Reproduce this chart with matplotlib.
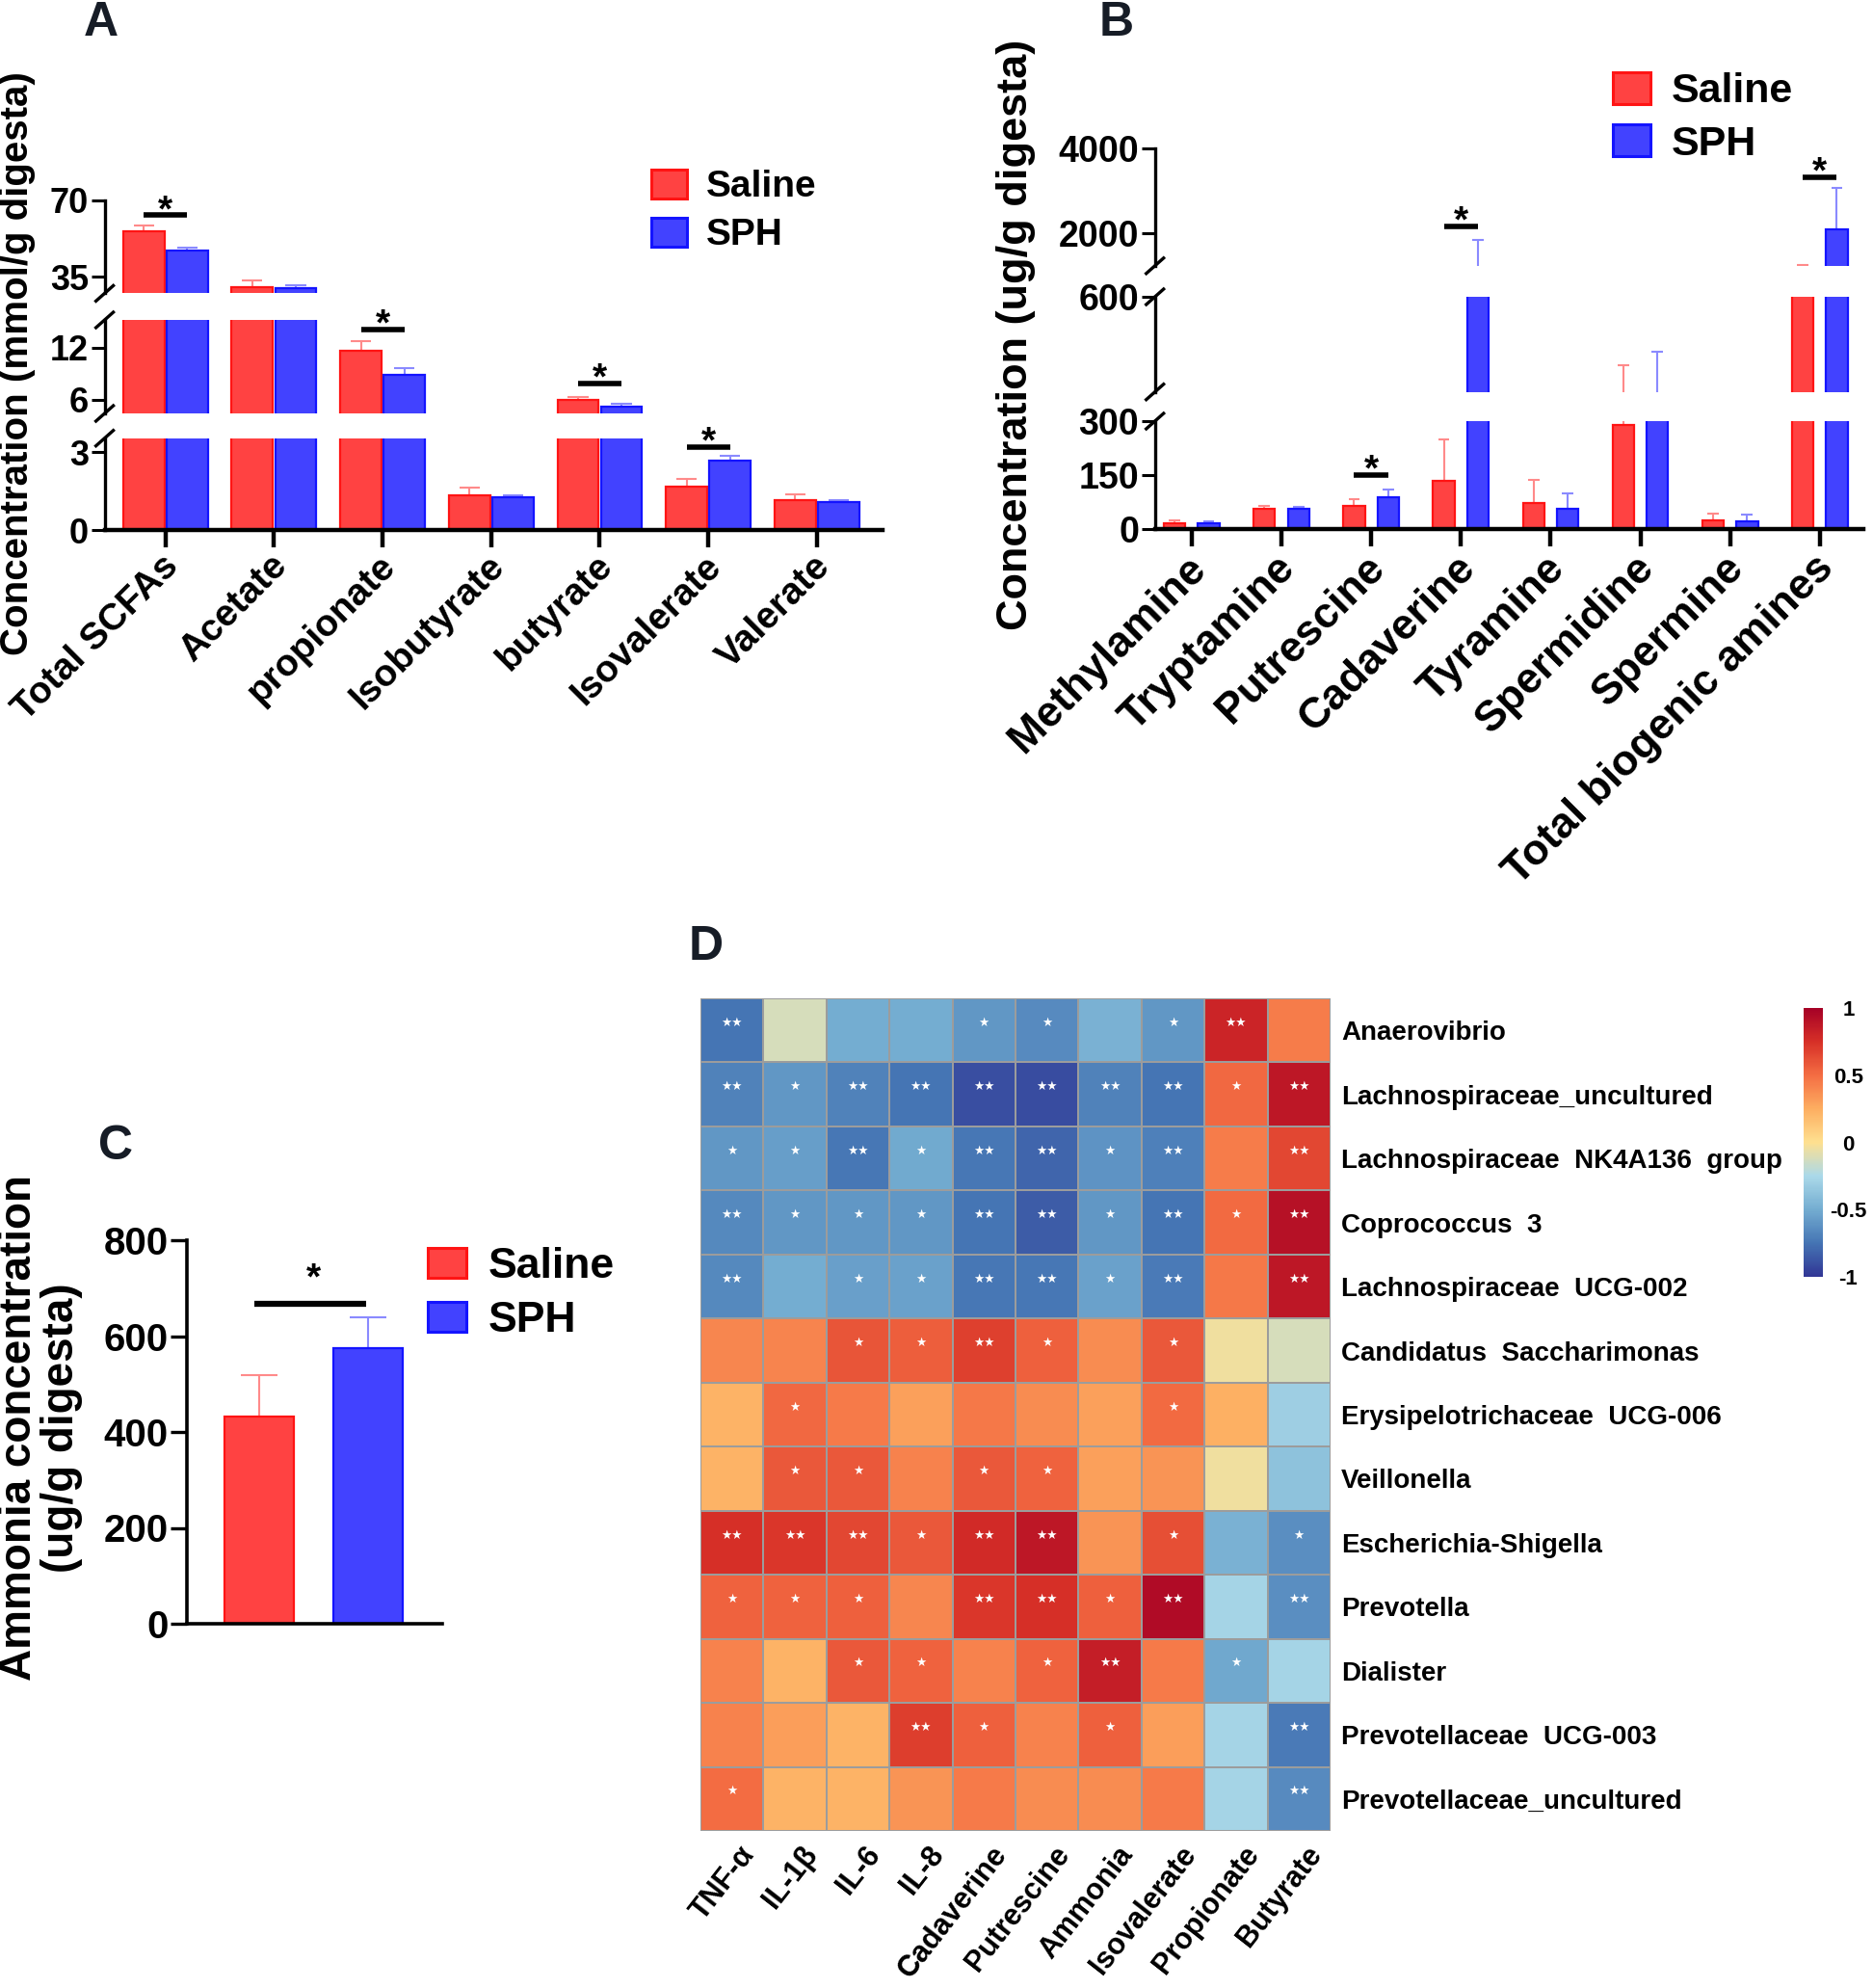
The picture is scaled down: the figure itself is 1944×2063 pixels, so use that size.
import matplotlib
matplotlib.use('Agg')
import matplotlib.pyplot as plt
from matplotlib.patches import Patch
from matplotlib.lines import Line2D
from matplotlib.colors import LinearSegmentedColormap
from matplotlib.transforms import ScaledTranslation
import numpy as np

plt.rcParams['font.family'] = ['Liberation Sans', 'DejaVu Sans']
plt.rcParams['font.weight'] = 'bold'

# ---------------- data ----------------
groups = ['Saline', 'SPH']

# A: short chain fatty acids (mmol/g digesta)
scfa_names = ['Total SCFAs', 'Acetate', 'propionate', 'Isobutyrate', 'butyrate', 'Isovalerate', 'Valerate']
scfa_saline = [55.8, 30.3, 11.6, 1.35, 5.95, 1.69, 1.17]
scfa_saline_err = [2.5, 3.2, 1.1, 0.30, 0.35, 0.28, 0.21]
scfa_sph = [47.1, 29.9, 8.9, 1.26, 5.2, 2.69, 1.06]
scfa_sph_err = [1.3, 1.2, 0.7, 0.09, 0.30, 0.18, 0.11]
scfa_sig = [(0, 63.0), (2, 14.05), (4, 7.9), (5, 3.18)]
scfa_limits = [(0, 3.54), (4.4, 15.2), (27.6, 70)]
scfa_ticks = [[0, 3], [6, 12], [35, 70]]

# B: biogenic amines (ug/g digesta)
amine_names = ['Methylamine', 'Tryptamine', 'Putrescine', 'Cadaverine', 'Tyramine',
               'Spermidine', 'Spermine', 'Total biogenic amines']
amine_saline = [16, 55, 63, 134, 71, 289, 24, 1000]
amine_saline_err = [8, 8, 19, 116, 66, 118, 19, 240]
amine_sph = [16, 55, 87, 900, 55, 310, 20, 2093]
amine_sph_err = [4, 5, 22, 926, 44, 134, 19, 975]
amine_sig = [(2, 150), (3, 2161), (7, 3307)]
amine_limits = [(0, 300), (330, 600), (1227, 4000)]
amine_ticks = [[0, 150, 300], [600], [2000, 4000]]

# C: ammonia (ug/g digesta)
nh3_val = [432, 575]
nh3_err = [87, 64]
nh3_sig = 667

# D: correlation heatmap
taxa = ['Anaerovibrio', 'Lachnospiraceae_uncultured', 'Lachnospiraceae  NK4A136  group',
        'Coprococcus  3', 'Lachnospiraceae  UCG-002', 'Candidatus  Saccharimonas',
        'Erysipelotrichaceae  UCG-006', 'Veillonella', 'Escherichia-Shigella', 'Prevotella',
        'Dialister', 'Prevotellaceae  UCG-003', 'Prevotellaceae_uncultured']
factors = ['TNF-α', 'IL-1β', 'IL-6', 'IL-8', 'Cadaverine', 'Putrescine', 'Ammonia',
           'Isovalerate', 'Propionate', 'Butyrate']
corr = [
    [-0.75, -0.12, -0.50, -0.50, -0.60, -0.65, -0.47, -0.60, 0.81, 0.44],
    [-0.69, -0.60, -0.69, -0.75, -0.90, -0.91, -0.69, -0.75, 0.52, 0.88],
    [-0.60, -0.57, -0.74, -0.51, -0.74, -0.81, -0.61, -0.70, 0.44, 0.65],
    [-0.66, -0.60, -0.60, -0.60, -0.75, -0.85, -0.60, -0.75, 0.51, 0.91],
    [-0.66, -0.50, -0.56, -0.55, -0.74, -0.74, -0.55, -0.72, 0.46, 0.88],
    [0.40, 0.41, 0.60, 0.56, 0.68, 0.55, 0.38, 0.58, -0.04, -0.12],
    [0.22, 0.52, 0.45, 0.30, 0.46, 0.38, 0.30, 0.51, 0.24, -0.31],
    [0.22, 0.58, 0.58, 0.42, 0.58, 0.54, 0.30, 0.35, -0.04, -0.38],
    [0.75, 0.72, 0.65, 0.58, 0.78, 0.88, 0.35, 0.62, -0.47, -0.64],
    [0.54, 0.54, 0.55, 0.40, 0.72, 0.75, 0.55, 0.94, -0.28, -0.64],
    [0.42, 0.22, 0.58, 0.54, 0.42, 0.54, 0.84, 0.45, -0.52, -0.28],
    [0.42, 0.31, 0.22, 0.69, 0.55, 0.42, 0.55, 0.31, -0.28, -0.72],
    [0.50, 0.22, 0.22, 0.35, 0.45, 0.38, 0.38, 0.45, -0.28, -0.65],
]
stars = [
    ['**', '', '', '', '*', '*', '', '*', '**', ''],
    ['**', '*', '**', '**', '**', '**', '**', '**', '*', '**'],
    ['*', '*', '**', '*', '**', '**', '*', '**', '', '**'],
    ['**', '*', '*', '*', '**', '**', '*', '**', '*', '**'],
    ['**', '', '*', '*', '**', '**', '*', '**', '', '**'],
    ['', '', '*', '*', '**', '*', '', '*', '', ''],
    ['', '*', '', '', '', '', '', '*', '', ''],
    ['', '*', '*', '', '*', '*', '', '', '', ''],
    ['**', '**', '**', '*', '**', '**', '', '*', '', '*'],
    ['*', '*', '*', '', '**', '**', '*', '**', '', '**'],
    ['', '', '*', '*', '', '*', '**', '', '*', ''],
    ['', '', '', '**', '*', '', '*', '', '', '**'],
    ['*', '', '', '', '', '', '', '', '', '**'],
]
heat_colors = ['#313695', '#4575b4', '#74add1', '#abd9e9', '#fee090',
               '#fdae61', '#f46d43', '#d73027', '#a50026']

# ---------------- figure ----------------
W, H = 1944, 2063
fig = plt.figure(figsize=(W / 100, H / 100), dpi=100)

RED, RED_EDGE, RED_ERR = '#ff4242', '#ff1414', '#ff8a8a'
BLUE, BLUE_EDGE, BLUE_ERR = '#4242ff', '#1414ff', '#8a8aff'
LETTER = '#161c26'


def box(x0, y0, x1, y1):
    # pixel box (origin top-left) -> figure rect
    return [x0 / W, 1 - y1 / H, (x1 - x0) / W, (y1 - y0) / H]


def draw_bars(ax, x, vals, errs, width, cap, fc, ec, erc):
    vals = np.asarray(vals, float)
    tops = vals + np.asarray(errs, float)
    ax.bar(x, vals, width, color=fc, edgecolor=ec, linewidth=1.6, zorder=2)
    ax.vlines(x, vals, tops, color=erc, lw=1.5, zorder=1)
    ax.hlines(tops, x - cap, x + cap, color=erc, lw=1.5, zorder=1)


def broken_panel(x0, x1, rows, limits, ticks, xlim, names, s, s_err, p, p_err,
                 off, width, cap, sig, fs_tick, fs_cat, lab_dx, lab_pad):
    x = np.arange(len(names))
    n = len(rows)
    for i, ((ytop, ybot), (lo, hi), tk) in enumerate(zip(rows, limits, ticks)):
        ax = fig.add_axes(box(x0, ytop, x1, ybot))
        ax.patch.set_alpha(0)
        draw_bars(ax, x - off, s, s_err, width, cap, RED, RED_EDGE, RED_ERR)
        draw_bars(ax, x + off, p, p_err, width, cap, BLUE, BLUE_EDGE, BLUE_ERR)
        ax.set_xlim(*xlim)
        ax.set_ylim(lo, hi)
        ax.set_yticks(tk)
        ax.tick_params(axis='y', length=10, width=2.2, labelsize=fs_tick, pad=2)
        ax.spines['left'].set_linewidth(2.4)
        for sp in ['top', 'right']:
            ax.spines[sp].set_visible(False)
        if i == 0:
            ax.set_xticks(x)
            ax.set_xticklabels(names, rotation=45, ha='right', va='center',
                               rotation_mode='anchor', fontsize=fs_cat)
            ax.tick_params(axis='x', length=13, width=3.2, pad=lab_pad)
            ax.spines['bottom'].set_linewidth(3.2)
            for lab in ax.get_xticklabels():
                lab.set_transform(lab.get_transform() +
                                  ScaledTranslation(lab_dx / 100, 0, fig.dpi_scale_trans))
        else:
            ax.spines['bottom'].set_visible(False)
            ax.set_xticks([])
        # axis break marks
        ends = []
        if i > 0:
            ends.append(ybot)
        if i < n - 1:
            ends.append(ytop)
        for y in ends:
            fig.add_artist(Line2D([(x0 - 9) / W, (x0 + 9) / W],
                                  [1 - (y + 8) / H, 1 - (y - 8) / H],
                                  transform=fig.transFigure, color='black', lw=2.4))
        for xi, h in sig:
            if lo < h < hi:
                ax.plot([xi - off, xi + off], [h, h], color='black', lw=4,
                        solid_capstyle='butt', clip_on=False)
                ax.annotate('*', (xi, h), xytext=(0, -4), textcoords='offset points',
                            ha='center', va='baseline', fontsize=28, annotation_clip=False)


def legend_at(x, y, fs, hl, hh, ls):
    handles = [Patch(facecolor=RED, edgecolor=RED_EDGE, linewidth=2.2, label=groups[0]),
               Patch(facecolor=BLUE, edgecolor=BLUE_EDGE, linewidth=2.2, label=groups[1])]
    fig.legend(handles=handles, loc='upper left', bbox_to_anchor=(x / W, 1 - y / H),
               frameon=False, fontsize=fs, handlelength=hl, handleheight=hh,
               handletextpad=0.5, labelspacing=ls, borderpad=0, borderaxespad=0)


# ---- Panel A ----
broken_panel(108.6, 915.5, [(454.7, 550), (332, 429), (207.5, 304.4)],
             scfa_limits, scfa_ticks, (-0.56, 6.6), scfa_names,
             scfa_saline, scfa_saline_err, scfa_sph, scfa_sph_err,
             0.2, 0.38, 0.094, scfa_sig, 26, 28, 8, 10)
fig.text(18 / W, 1 - 377 / H, 'Concentration (mmol/g digesta)', rotation=90,
         ha='center', va='center', fontsize=29)
legend_at(676, 176, 28, 0.95, 0.8, 0.35)
fig.text(105 / W, 1 - 24 / H, 'A', ha='center', va='center', fontsize=36, color=LETTER)

# ---- Panel B ----
broken_panel(1198.7, 1933.5, [(437, 548.7), (308, 406.7), (153.8, 275.8)],
             amine_limits, amine_ticks, (-0.41, 7.48), amine_names,
             amine_saline, amine_saline_err, amine_sph, amine_sph_err,
             0.19, 0.24, 0.063, amine_sig, 27, 32, 8, 12)
fig.text(1054 / W, 1 - 347 / H, 'Concentration (ug/g digesta)', rotation=90,
         ha='center', va='center', fontsize=32.5)
legend_at(1674, 75, 31, 0.9, 0.8, 0.32)
fig.text(1159 / W, 1 - 24 / H, 'B', ha='center', va='center', fontsize=36, color=LETTER)

# ---- Panel C ----
axc = fig.add_axes(box(194.4, 1287, 458.8, 1685))
xc = np.arange(2)
draw_bars(axc, xc[:1], nh3_val[:1], nh3_err[:1], 0.64, 0.17, RED, RED_EDGE, RED_ERR)
draw_bars(axc, xc[1:], nh3_val[1:], nh3_err[1:], 0.64, 0.17, BLUE, BLUE_EDGE, BLUE_ERR)
axc.set_xlim(-0.667, 1.685)
axc.set_ylim(0, 800)
axc.set_yticks([0, 200, 400, 600, 800])
axc.set_xticks([])
axc.tick_params(axis='y', length=12, width=2.4, labelsize=29, pad=2)
for sp in ['top', 'right']:
    axc.spines[sp].set_visible(False)
for sp in ['left', 'bottom']:
    axc.spines[sp].set_linewidth(2.6)
axc.plot([xc[0] - 0.05, xc[1] - 0.02], [nh3_sig, nh3_sig], color='black', lw=4.5,
         solid_capstyle='butt')
axc.annotate('*', ((xc[0] + xc[1]) / 2, nh3_sig), xytext=(0, 11), textcoords='offset points',
             ha='center', va='baseline', fontsize=28)
fig.text(42 / W, 1 - 1482 / H, 'Ammonia concentration\n(ug/g digesta)', rotation=90,
         ha='center', va='center', fontsize=33, linespacing=1.0)
legend_at(444, 1294, 32, 0.9, 0.7, 0.34)
fig.text(120 / W, 1 - 1190 / H, 'C', ha='center', va='center', fontsize=36, color=LETTER)

# ---- Panel D ----
axd = fig.add_axes(box(727, 1036, 1381, 1900))
cmap = LinearSegmentedColormap.from_list('heat', heat_colors)
mesh = axd.pcolormesh(np.array(corr), cmap=cmap, vmin=-1, vmax=1,
                      edgecolors='#9c9c9c', linewidth=1.2)
axd.set_xlim(0, len(factors))
axd.set_ylim(len(taxa), 0)
for r, row in enumerate(stars):
    for c, s in enumerate(row):
        if s:
            axd.text(c + 0.5, r + 0.38, '★' * len(s), ha='center', va='center',
                     color='white', fontsize=9, family='DejaVu Sans')
for sp in axd.spines.values():
    sp.set_visible(False)
axd.yaxis.tick_right()
axd.set_yticks(np.arange(len(taxa)) + 0.5)
axd.set_yticklabels(taxa, fontsize=20)
axd.set_xticks(np.arange(len(factors)) + 0.5)
axd.set_xticklabels(factors, rotation=52, ha='right', va='center', rotation_mode='anchor',
                    fontsize=22)
axd.tick_params(axis='both', length=0)
axd.tick_params(axis='y', pad=8)
axd.tick_params(axis='x', pad=14)
for lab in axd.get_xticklabels():
    lab.set_transform(lab.get_transform() + ScaledTranslation(0.18, 0, fig.dpi_scale_trans))

cax = fig.add_axes(box(1872, 1046, 1892, 1325))
cb = fig.colorbar(mesh, cax=cax, ticks=[-1, -0.5, 0, 0.5, 1])
cb.outline.set_visible(False)
cb.ax.set_yticklabels(['-1', '-0.5', '0', '0.5', '1'])
cax.tick_params(length=0, labelsize=16, pad=19)
for lab in cax.get_yticklabels():
    lab.set_ha('center')
fig.text(733 / W, 1 - 983 / H, 'D', ha='center', va='center', fontsize=36, color=LETTER)

fig.savefig('out.png', dpi=100)
